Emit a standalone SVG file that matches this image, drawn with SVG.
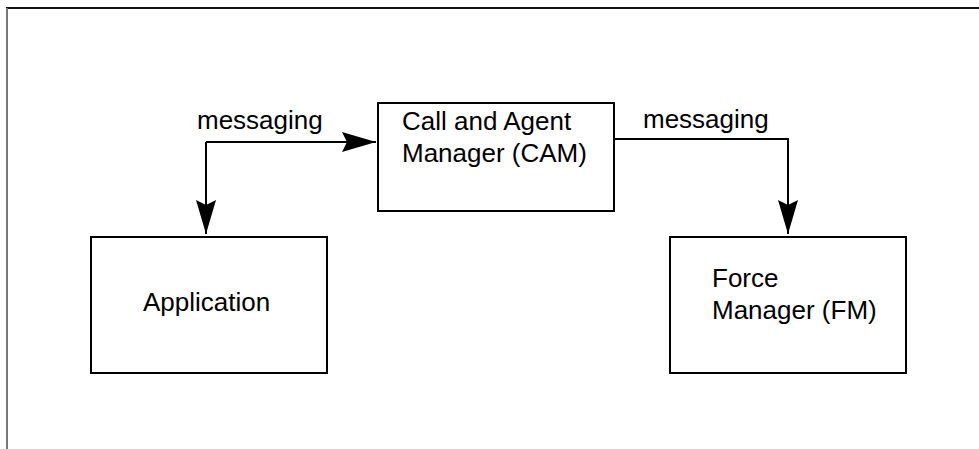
<svg xmlns="http://www.w3.org/2000/svg" width="979" height="449" viewBox="0 0 979 449">
<style>
.box{fill:#fff;stroke:#000;stroke-width:2}
.t{font-family:"Liberation Sans",Arial,sans-serif;font-size:26px;fill:#000}
.c{fill:none;stroke:#000;stroke-width:2}
.frame-top{stroke:#111;stroke-width:2}
.frame-left{stroke:#777;stroke-width:2}
</style>
<defs>
<marker id="ah" viewBox="0 0 34 20" refX="34" refY="10" markerWidth="34" markerHeight="20" markerUnits="userSpaceOnUse" orient="auto">
<path d="M0,0 L34,10 L0,20 L5,10 Z" fill="#000"/>
</marker>
</defs>
<rect width="979" height="449" fill="#fff"/>
<line class="frame-top" x1="6" y1="8" x2="979" y2="8"/>
<line class="frame-left" x1="7" y1="8" x2="7" y2="449"/>
<g id="cam">
<rect class="box" x="378" y="103" width="236" height="108"/>
<text class="t" x="402" y="130">Call and Agent</text>
<text class="t" x="402" y="162">Manager (CAM)</text>
</g>
<g id="application">
<rect class="box" x="91" y="237" width="236" height="136"/>
<text class="t" x="143" y="311">Application</text>
</g>
<g id="fm">
<rect class="box" x="670" y="237" width="236" height="136"/>
<text class="t" x="712" y="287">Force</text>
<text class="t" x="712" y="319">Manager (FM)</text>
</g>
<g id="connectors">
<path class="c" d="M206,142 H376" marker-end="url(#ah)"/>
<path class="c" d="M206,142 V234" marker-end="url(#ah)"/>
<path class="c" d="M614,139 H788 V234" marker-end="url(#ah)"/>
<text class="t" x="197" y="129">messaging</text>
<text class="t" x="643" y="128">messaging</text>
</g>
</svg>
